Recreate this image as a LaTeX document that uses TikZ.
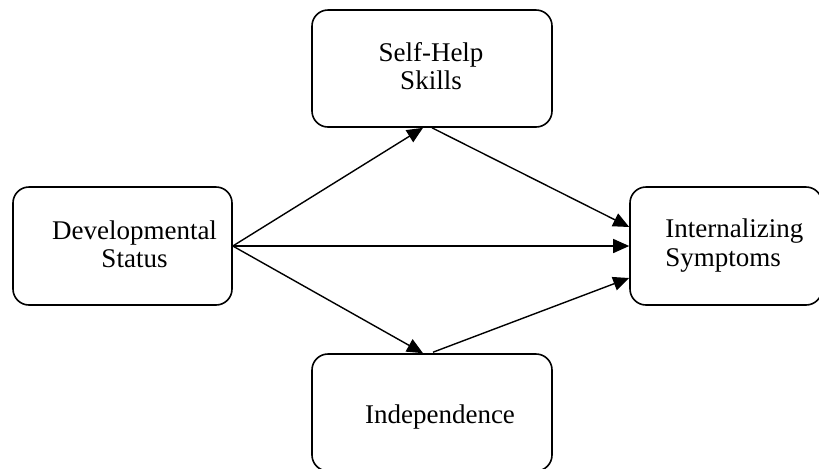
\documentclass[tikz,border=0pt]{standalone}
\usepackage{fontspec}
\setmainfont{Liberation Serif}
\usetikzlibrary{arrows.meta,calc}
\begin{document}
\begin{tikzpicture}[x=0.5pt,y=-0.5pt,
  box/.style={draw=black,line width=0.8pt,rounded corners=8pt,fill=white,inner sep=0pt},
  lbl/.style={font=\fontsize{13.5}{14.2}\selectfont,inner sep=0pt,align=center},
  conn/.style={line width=0.7pt,-{Triangle[length=8pt,width=7pt]}}]
\useasboundingbox (0,0) rectangle (819,468);
\begin{scope}
\clip (0,0) rectangle (819,468);
\node[box,minimum width=120pt,minimum height=58.5pt] (SH) at (432,68.5) {};
\node[box,minimum width=109.5pt,minimum height=59pt] (DS) at (122.5,246) {};
\node[box,minimum width=96pt,minimum height=59pt] (IS) at (726,246) {};
\node[box,minimum width=120pt,minimum height=58.5pt] (IN) at (432,412.5) {};
\end{scope}
\node[lbl] (tSH) at (431,66) {Self-Help\\Skills};
\node[lbl] (tDS) at (134.5,244) {Developmental\\Status};
\node[lbl,align=left,anchor=west] (tIS) at (665,245.5) {Internalizing\\Symptoms};
\node[lbl,anchor=base] (tIN) at (440,423) {Independence};
\draw[conn] (DS.east) -- ($(SH.south)+(-9,0)$);
\draw[conn] (SH.south) -- ($(IS.west)+(0,-19)$);
\draw[conn] (DS.east) -- (IS.west);
\draw[conn] ($(IN.north)+(1,-1)$) -- ($(IS.west)+(0,32)$);
\draw[conn] (DS.east) -- ($(IN.north)+(-9,0)$);
\end{tikzpicture}
\end{document}
